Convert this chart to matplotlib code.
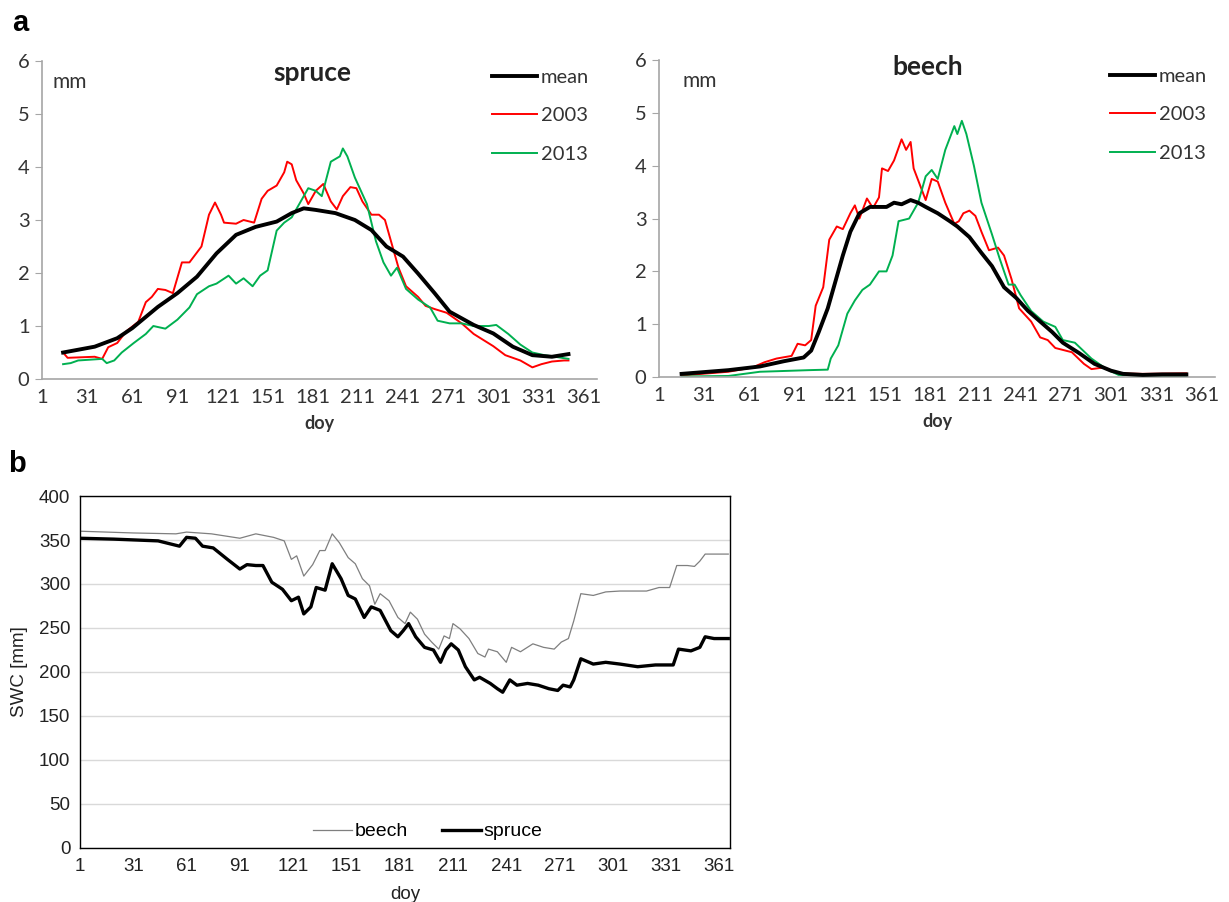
import matplotlib
matplotlib.use("Agg")
import matplotlib.pyplot as plt

# ---- panel a: spruce ----
spruce_mean_doy = [15, 36, 51, 61, 78, 91, 104, 117, 130, 143, 157, 167, 175, 183, 196, 209,
                   220, 230, 241, 251, 262, 272, 288, 301, 314, 327, 340, 351]
spruce_mean = [0.50, 0.61, 0.77, 0.96, 1.36, 1.62, 1.93, 2.37, 2.72, 2.87, 2.97, 3.13, 3.22, 3.19,
               3.13, 3.00, 2.81, 2.50, 2.31, 1.99, 1.62, 1.27, 1.02, 0.86, 0.61, 0.45, 0.42, 0.47]

spruce_2003_doy = [15, 18, 36, 41, 45, 51, 57, 65, 70, 74, 78, 83, 88, 94, 99, 107, 112, 116, 120,
                   122, 130, 135, 142, 147, 151, 157, 162, 164, 167, 170, 175, 178, 183, 188, 193,
                   197, 201, 206, 210, 214, 220, 225, 229, 233, 238, 243, 251, 256, 262, 270, 280,
                   288, 301, 309, 319, 327, 333, 340, 348, 351]
spruce_2003 = [0.50, 0.40, 0.42, 0.38, 0.60, 0.68, 0.90, 1.08, 1.45, 1.55, 1.70, 1.68, 1.62, 2.20,
               2.20, 2.50, 3.10, 3.33, 3.10, 2.95, 2.93, 3.00, 2.95, 3.40, 3.55, 3.65, 3.90, 4.10,
               4.05, 3.75, 3.50, 3.30, 3.55, 3.68, 3.35, 3.20, 3.45, 3.62, 3.60, 3.35, 3.10, 3.10,
               3.00, 2.60, 2.10, 1.75, 1.55, 1.38, 1.32, 1.25, 1.05, 0.85, 0.62, 0.45, 0.35, 0.22,
               0.28, 0.33, 0.35, 0.35]

spruce_2013_doy = [15, 20, 25, 41, 44, 49, 54, 62, 70, 75, 83, 91, 99, 104, 112, 117, 125, 130, 135,
                   141, 146, 151, 157, 162, 167, 173, 178, 183, 187, 193, 199, 201, 204, 209, 217,
                   223, 228, 233, 237, 243, 251, 259, 264, 272, 280, 288, 298, 303, 311, 319, 327,
                   335, 342, 351]
spruce_2013 = [0.28, 0.30, 0.35, 0.38, 0.30, 0.35, 0.50, 0.68, 0.85, 1.00, 0.95, 1.12, 1.35, 1.60,
               1.75, 1.80, 1.95, 1.80, 1.90, 1.75, 1.95, 2.05, 2.80, 2.95, 3.05, 3.35, 3.60, 3.55,
               3.45, 4.10, 4.20, 4.35, 4.20, 3.80, 3.30, 2.60, 2.20, 1.95, 2.10, 1.70, 1.50, 1.35,
               1.10, 1.05, 1.05, 1.00, 1.00, 1.02, 0.85, 0.65, 0.50, 0.45, 0.42, 0.38]

# ---- panel a: beech ----
beech_mean_doy = [16, 47, 68, 84, 97, 102, 107, 113, 118, 123, 128, 134, 141, 152, 157, 162, 168,
                  173, 178, 186, 194, 199, 207, 215, 222, 230, 238, 246, 254, 262, 269, 280, 290,
                  301, 309, 322, 335, 351]
beech_mean = [0.06, 0.13, 0.20, 0.30, 0.37, 0.50, 0.85, 1.30, 1.80, 2.30, 2.75, 3.10, 3.22, 3.22,
              3.30, 3.27, 3.35, 3.30, 3.22, 3.10, 2.95, 2.85, 2.65, 2.35, 2.10, 1.70, 1.50, 1.25,
              1.05, 0.85, 0.65, 0.45, 0.25, 0.12, 0.06, 0.04, 0.05, 0.05]

beech_2003_doy = [16, 47, 63, 71, 79, 89, 93, 98, 102, 105, 110, 114, 119, 123, 128, 131, 134, 139,
                  143, 147, 149, 153, 157, 162, 165, 168, 170, 174, 178, 182, 186, 191, 197, 200,
                  203, 207, 211, 215, 220, 226, 230, 235, 240, 248, 254, 259, 264, 275, 283, 288,
                  296, 306, 322, 351]
beech_2003 = [0.03, 0.10, 0.18, 0.28, 0.35, 0.40, 0.63, 0.60, 0.70, 1.35, 1.70, 2.60, 2.85, 2.80,
              3.10, 3.25, 3.00, 3.38, 3.20, 3.40, 3.95, 3.90, 4.10, 4.50, 4.30, 4.45, 3.95, 3.65,
              3.35, 3.75, 3.70, 3.30, 2.90, 2.95, 3.10, 3.15, 3.05, 2.75, 2.40, 2.45, 2.30, 1.85,
              1.30, 1.05, 0.75, 0.70, 0.55, 0.47, 0.25, 0.15, 0.18, 0.07, 0.06, 0.07]

beech_2013_doy = [16, 47, 68, 79, 100, 113, 115, 120, 126, 131, 136, 141, 147, 152, 156, 160, 167,
                  173, 178, 182, 186, 191, 197, 199, 202, 205, 210, 215, 222, 227, 233, 237, 241,
                  248, 256, 264, 269, 277, 288, 298, 306, 322, 351]
beech_2013 = [0.01, 0.02, 0.10, 0.11, 0.13, 0.14, 0.35, 0.60, 1.20, 1.45, 1.65, 1.75, 2.00, 2.00,
              2.30, 2.95, 3.00, 3.30, 3.80, 3.92, 3.75, 4.30, 4.75, 4.60, 4.85, 4.60, 4.00, 3.30,
              2.70, 2.25, 1.75, 1.75, 1.55, 1.25, 1.05, 0.95, 0.70, 0.65, 0.35, 0.15, 0.04, 0.02,
              0.02]

# ---- panel b: soil water content ----
swc_beech_doy = [1, 31, 55, 61, 75, 91, 100, 110, 116, 120, 123, 127, 132, 136, 139, 143, 147, 152,
                 156, 160, 164, 167, 170, 175, 180, 184, 187, 191, 195, 199, 203, 206, 209, 211,
                 215, 220, 225, 229, 231, 236, 241, 244, 249, 256, 262, 268, 272, 276, 279, 283,
                 290, 297, 305, 312, 320, 327, 333, 337, 343, 347, 350, 353, 366]
swc_beech = [360, 358, 357, 359, 357, 352, 357, 353, 349, 328, 332, 309, 322, 338, 338, 357, 347,
             330, 323, 306, 298, 277, 289, 281, 262, 255, 268, 260, 243, 234, 226, 241, 238, 255,
             249, 238, 221, 217, 226, 223, 211, 228, 223, 232, 228, 226, 234, 238, 258, 289, 287,
             291, 292, 292, 292, 296, 296, 321, 321, 320, 326, 334, 334]

swc_spruce_doy = [1, 20, 45, 57, 61, 66, 70, 76, 84, 91, 95, 100, 104, 109, 115, 120, 124, 127, 131,
                  134, 139, 143, 148, 152, 156, 161, 165, 170, 176, 180, 183, 186, 190, 195, 200,
                  204, 207, 210, 214, 218, 223, 226, 232, 236, 239, 243, 247, 253, 259, 265, 270,
                  273, 277, 279, 283, 290, 297, 305, 315, 325, 335, 338, 345, 350, 353, 358, 366]
swc_spruce = [352, 351, 349, 343, 353, 352, 343, 341, 328, 317, 322, 321, 321, 302, 294, 281, 285,
              266, 274, 296, 293, 323, 306, 287, 283, 262, 274, 270, 247, 240, 247, 255, 240, 228,
              225, 211, 225, 232, 225, 206, 191, 194, 187, 181, 177, 191, 185, 187, 185, 181, 179,
              185, 183, 191, 215, 209, 211, 209, 206, 208, 208, 226, 224, 228, 240, 238, 238]

doy_ticks = [1, 31, 61, 91, 121, 151, 181, 211, 241, 271, 301, 331, 361]

fig = plt.figure(figsize=(12.29, 9.02), dpi=100)

calibri_like = "Lato"
axis_grey = "#a6a6a6"
text_col = "#333333"


def style_panel_a(ax, title, title_x, title_y, mm_x):
    ax.set_xlim(1, 370)
    ax.set_ylim(0, 6)
    ax.set_xticks(doy_ticks)
    ax.set_yticks(range(0, 7))
    for s in ["top", "right"]:
        ax.spines[s].set_visible(False)
    for s in ["left", "bottom"]:
        ax.spines[s].set_color(axis_grey)
        ax.spines[s].set_linewidth(1.2)
    ax.tick_params(axis="x", length=0, pad=7, labelsize=14.5, labelcolor=text_col)
    ax.tick_params(axis="y", length=5, color=axis_grey, direction="out", pad=4,
                   labelsize=14.5, labelcolor=text_col)
    for lab in ax.get_xticklabels() + ax.get_yticklabels():
        lab.set_family(calibri_like)
    ax.set_xlabel("doy", fontsize=13, fontweight="bold", family=calibri_like,
                  color=text_col, labelpad=7)
    ax.text(title_x, title_y, title, transform=ax.transAxes, ha="center", va="center",
            fontsize=19, fontweight="bold", family=calibri_like, color="#222222")
    ax.text(mm_x, 0.935, "mm", transform=ax.transAxes, ha="center", va="center",
            fontsize=15, family=calibri_like, color=text_col)
    leg = ax.legend(loc="upper right", bbox_to_anchor=(1.0, 1.0), frameon=False,
                    borderaxespad=0, handlelength=2.2, handletextpad=0.2,
                    labelspacing=1.05, prop={"family": calibri_like, "size": 14.5})
    for t in leg.get_texts():
        t.set_color(text_col)


# spruce
ax1 = fig.add_axes([0.0342, 0.5798, 0.4516, 0.3526])
ax1.plot(spruce_mean_doy, spruce_mean, color="black", lw=2.8, label="mean", zorder=3)
ax1.plot(spruce_2003_doy, spruce_2003, color="#ff0000", lw=1.4, label="2003", zorder=2)
ax1.plot(spruce_2013_doy, spruce_2013, color="#00b050", lw=1.4, label="2013", zorder=2)
style_panel_a(ax1, "spruce", 0.487, 0.962, 0.05)

# beech
ax2 = fig.add_axes([0.5362, 0.5820, 0.4524, 0.3514])
ax2.plot(beech_mean_doy, beech_mean, color="black", lw=2.8, label="mean", zorder=3)
ax2.plot(beech_2003_doy, beech_2003, color="#ff0000", lw=1.4, label="2003", zorder=2)
ax2.plot(beech_2013_doy, beech_2013, color="#00b050", lw=1.4, label="2013", zorder=2)
style_panel_a(ax2, "beech", 0.483, 0.978, 0.073)

# panel b
ax3 = fig.add_axes([0.0651, 0.0599, 0.5289, 0.3902])
ax3.plot(swc_beech_doy, swc_beech, color="#7f7f7f", lw=0.9, label="beech")
ax3.plot(swc_spruce_doy, swc_spruce, color="black", lw=2.4, label="spruce")
ax3.set_xlim(1, 367)
ax3.set_ylim(0, 400)
ax3.set_xticks(doy_ticks)
ax3.set_yticks(range(0, 401, 50))
ax3.grid(axis="y", color="#d9d9d9", lw=1.0)
ax3.set_axisbelow(True)
for s in ax3.spines.values():
    s.set_color("black")
    s.set_linewidth(1.0)
ax3.tick_params(length=0, labelsize=13.5, pad=7, labelcolor="#222222")
for lab in ax3.get_xticklabels() + ax3.get_yticklabels():
    lab.set_family("Liberation Sans")
ax3.set_xlabel("doy", fontsize=13.5, family="Liberation Sans", color="#222222", labelpad=8)
ax3.set_ylabel("SWC [mm]", fontsize=13.5, family="Liberation Sans", color="#222222", labelpad=8)
ax3.legend(loc="lower center", bbox_to_anchor=(0.535, -0.028), ncol=2, frameon=False,
           handlelength=2.0, handletextpad=0.1, columnspacing=1.8,
           prop={"family": "Liberation Sans", "size": 14})

# panel letters
fig.text(0.010, 0.975, "a", fontsize=21, fontweight="bold", family="Liberation Sans",
         ha="left", va="center")
fig.text(0.007, 0.486, "b", fontsize=21, fontweight="bold", family="Liberation Sans",
         ha="left", va="center")

fig.savefig("out.png", dpi=100)
